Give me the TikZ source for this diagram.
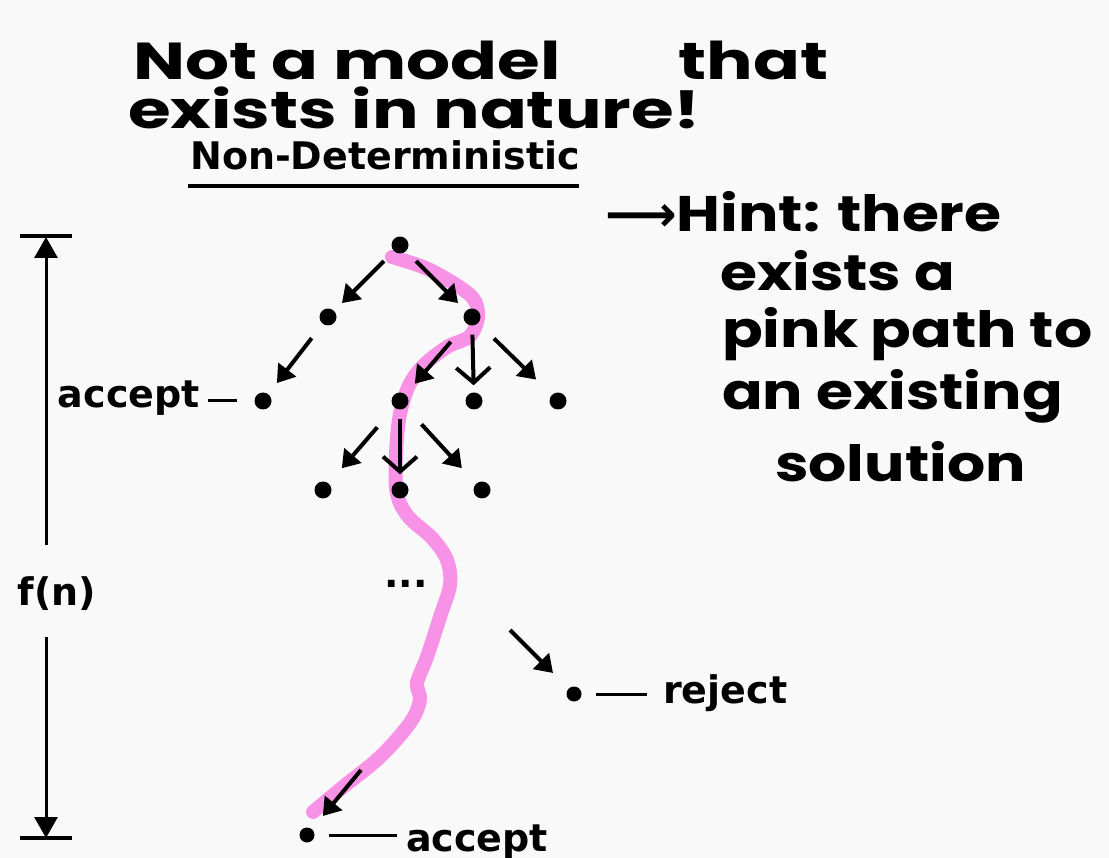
\documentclass[tikz,border=0pt]{standalone}
\usepackage{fontspec}
\setmainfont{DejaVu Sans}
\newfontfamily\handfont[FakeStretch=1.2]{Poppins}
\newfontfamily\bighandfont[FakeStretch=1.33]{Poppins}
\newfontfamily\symfont{DejaVu Sans}
\usetikzlibrary{arrows.meta}

\definecolor{pagebg}{RGB}{249,249,249}
\definecolor{pathpink}{RGB}{247,146,230}

\begin{document}
\begin{tikzpicture}[x=1pt, y=-1pt,
    every node/.style={inner sep=0pt},
    dot/.style={circle, fill=black, minimum size=17pt},
    lbl/.style={font=\fontsize{38}{42}\selectfont\bfseries},
    hand/.style={font=\handfont\bfseries\fontsize{50}{56}\selectfont, anchor=base west},
    bighand/.style={hand, font=\bighandfont\bfseries\fontsize{52}{49}\selectfont, align=left},
    branch/.style={line width=4pt, -{Triangle[length=17pt,width=22pt]}, shorten <=18pt, shorten >=14pt},
    vbranch/.style={line width=4pt, -{Straight Barb[length=15pt,width=34pt]}, shorten <=9pt, shorten >=7pt},
    leader/.style={line width=3pt},
    dimline/.style={line width=3pt, -{Triangle[length=21pt,width=23pt]}}]
    \path[use as bounding box, fill=pagebg] (0,0) rectangle (1109,858);

    % Notes
    \node[bighand] (note) at (128,129) {\hspace*{5pt}Not a model\hspace{118pt}that\\exists in nature!};
    \node[hand] (hint1) at (605,232) {{\symfont ⟶}Hint: there};
    \node[hand] (hint2) at (720,291) {exists a};
    \node[hand] (hint3) at (722,348) {pink path to};
    \node[hand] (hint4) at (722,410) {an existing};
    \node[hand] (hint5) at (775,482) {solution};

    % Title
    \node[lbl, anchor=base west] (title) at (190,170) {Non-Deterministic};
    \draw[line width=3.5pt] (title.base west) ++(-2,16) -- ++(391,0);

    % Pink path
    \draw[pathpink, line width=14pt, line cap=round, line join=round]
        plot[smooth, tension=0.55] coordinates {(392,257) (430,270) (470,295) (478,315)
        (470,336) (447,347) (422,367) (407,390) (398,427) (396,487) (407,515)
        (432,538) (447,560) (450,585) (440,617) (427,657) (417,683) (420,700)
        (410,723) (380,757) (343,787) (313,812)};

    % Tree
    \node[dot] (r) at (400,245) {};
    \node[dot] (a) at (328,317) {};
    \node[dot] (b) at (472,317) {};
    \node[dot] (c) at (263,401) {};
    \node[dot] (d) at (400,401) {};
    \node[dot] (e) at (474,401) {};
    \node[dot] (f) at (558,401) {};
    \node[dot] (g) at (323,490) {};
    \node[dot] (h) at (400,490) {};
    \node[dot] (i) at (482,490) {};
    \node[lbl] (more) at (406,584) {...};
    \node[dot, minimum size=15pt] (rej) at (574,694) {};
    \node[dot, minimum size=15pt] (acc) at (307,835) {};
    \coordinate (rejtail) at (510,630);
    \coordinate (acctail) at (361,770);

    \draw[branch, shorten <=14pt, shorten >=11pt] (r) -- (a);
    \draw[branch, shorten <=14pt, shorten >=11pt] (r) -- (b);
    \draw[branch] (a) -- (c);
    \draw[branch, shorten <=24pt] (b) -- (d);
    \draw[vbranch] (b) -- (e);
    \draw[branch, shorten <=22pt, shorten >=22pt] (b) -- (f);
    \draw[branch, shorten <=26pt, shorten >=20pt] (d) -- (g);
    \draw[vbranch] (d) -- (h);
    \draw[branch, shorten <=23pt, shorten >=21pt] (d) -- (i);
    \draw[branch, shorten <=0pt, shorten >=22pt] (rejtail) -- (rej);
    \draw[branch, shorten <=0pt, shorten >=17pt] (acctail) -- (acc);

    % Outcomes
    \node[lbl, anchor=base east] (acclbl1) at (200,408) {accept};
    \node[lbl, anchor=base west] (rejlbl) at (663,703) {reject};
    \node[lbl, anchor=base west] (acclbl2) at (406,851) {accept};
    \draw[leader, shorten <=17pt, shorten >=8pt] (c) -- (c -| acclbl1.east);
    \draw[leader, shorten <=14pt, shorten >=16pt] (rej) -- (rej -| rejlbl.west);
    \draw[leader, shorten <=14pt, shorten >=9pt] (acc) -- (acc -| acclbl2.west);

    % Depth f(n)
    \node[lbl] (fn) at (57,594) {f(n)};
    \coordinate (ftop) at (46,237);
    \coordinate (fbot) at (46,838);
    \coordinate (fup) at (46,545);
    \coordinate (fdown) at (46,637);
    \draw[dimline] (fup) -- (ftop);
    \draw[dimline] (fdown) -- (fbot);
    \draw[line width=3.5pt] (ftop) ++(-26,-1) -- ++(52,0);
    \draw[line width=3.5pt] (fbot) ++(-26,0) -- ++(52,0);
\end{tikzpicture}
\end{document}
